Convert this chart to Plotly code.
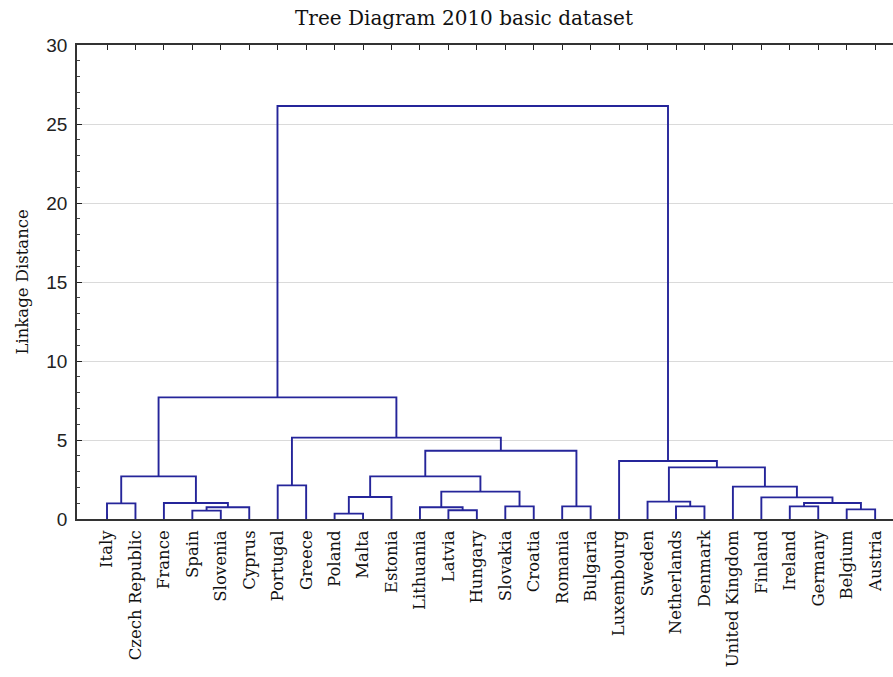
import plotly.graph_objects as go

# ---------------- data ----------------
countries = ["Italy", "Czech Republic", "France", "Spain", "Slovenia", "Cyprus",
             "Portugal", "Greece", "Poland", "Malta", "Estonia", "Lithuania",
             "Latvia", "Hungary", "Slovakia", "Croatia", "Romania", "Bulgaria",
             "Luxembourg", "Sweden", "Netherlands", "Denmark", "United Kingdom",
             "Finland", "Ireland", "Germany", "Belgium", "Austria"]

# merges: node ids 0..27 are leaves, 28.. are clusters in the order below
merge_left = [8, 3, 12, 26, 29, 11, 14, 16, 20, 24, 0, 2, 37, 19, 23, 28, 33,
              22, 6, 38, 43, 41, 18, 48, 46, 47, 53]
merge_right = [9, 4, 13, 27, 5, 30, 15, 17, 21, 25, 1, 32, 31, 36, 40, 10, 34,
               42, 7, 39, 44, 45, 49, 35, 51, 52, 50]
merge_height = [0.34, 0.53, 0.55, 0.61, 0.74, 0.74, 0.80, 0.80, 0.80, 0.80,
                0.99, 1.01, 1.01, 1.10, 1.37, 1.39, 1.73, 2.05, 2.13, 2.70,
                2.70, 3.27, 3.67, 4.32, 5.15, 7.70, 26.14]

y_ticks = [0, 5, 10, 15, 20, 25, 30]

# ---------------- build dendrogram links ----------------
node_x = list(range(len(countries)))
node_y = [0.0] * len(countries)
xs, ys = [], []
for a, b, h in zip(merge_left, merge_right, merge_height):
    xa, ya = node_x[a], node_y[a]
    xb, yb = node_x[b], node_y[b]
    xs += [xa, xa, xb, xb, None]
    ys += [ya, h, h, yb, None]
    node_x.append((xa + xb) / 2)
    node_y.append(h)

LINE = "#25259a"
fig = go.Figure()
fig.add_trace(go.Scatter(x=xs, y=ys, mode="lines",
                         line=dict(color=LINE, width=1.9),
                         hoverinfo="skip", showlegend=False))

W, H = 893, 677
ml, mt = 77, 45
plot_bottom = 519
mb = H - plot_bottom
mr = 0
pw = W - ml - mr
ph = H - mt - mb
spacing = 28.45
x0 = -(107 - ml) / spacing
x1 = x0 + pw / spacing

fig.update_layout(
    width=W, height=H,
    margin=dict(l=ml, r=mr, t=mt, b=mb, autoexpand=False),
    paper_bgcolor="white", plot_bgcolor="white",
    title=dict(text="Tree Diagram 2010 basic dataset",
               x=464 / W, xanchor="center", xref="container",
               y=1 - 18 / H, yanchor="middle", yref="container",
               font=dict(family="DejaVu Serif", size=20, color="#111")),
    xaxis=dict(range=[x0, x1], tickmode="array",
               tickvals=list(range(len(countries))), ticktext=countries,
               tickangle=-90, ticks="inside", ticklen=5, tickcolor="#222",
               showline=True, linecolor="#333", linewidth=1.5, mirror="ticks",
               showgrid=False, zeroline=False, layer="below traces",
               ticklabelstandoff=3,
               tickfont=dict(family="DejaVu Serif", size=16.5, color="#111")),
    yaxis=dict(range=[0, 30], tickmode="array", tickvals=y_ticks,
               ticks="inside", ticklen=5, tickcolor="#222",
               minor=dict(dtick=1, ticks="inside", ticklen=3, tickcolor="#444",
                          showgrid=False),
               showline=True, linecolor="#333", linewidth=1.5,
               showgrid=True, gridcolor="#dadada", gridwidth=1,
               zeroline=False, layer="below traces",
               ticklabelstandoff=4,
               tickfont=dict(family="Liberation Sans", size=19, color="#222")),
)

fig.add_annotation(text="Linkage Distance", textangle=-90,
                   xref="paper", yref="paper",
                   x=(21.5 - ml) / pw, y=(519 - 282) / ph,
                   xanchor="center", yanchor="middle", showarrow=False,
                   font=dict(family="DejaVu Serif", size=16.5, color="#111"))

fig.write_html("out.html",
               config={"displayModeBar": False},
               post_script="document.body.style.margin='0px';"
                           "document.body.style.overflow='hidden';")
